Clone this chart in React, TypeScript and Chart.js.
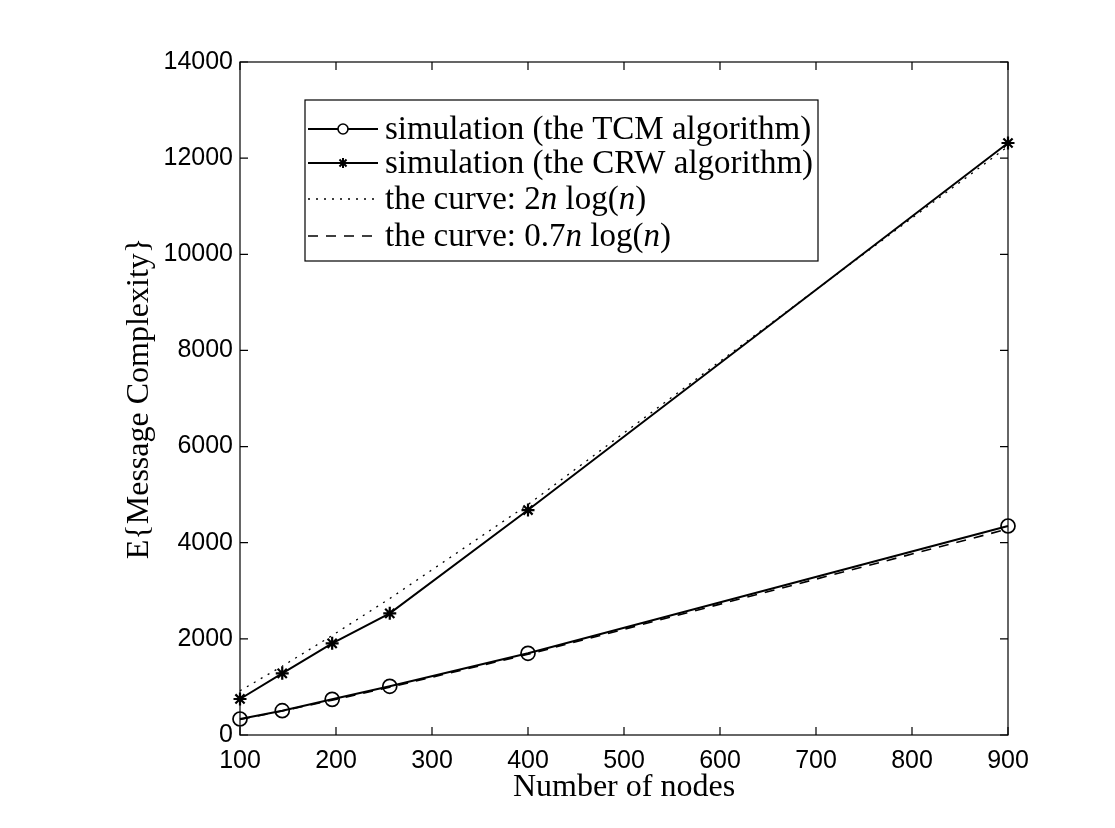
import React, { useEffect, useRef } from "react";
import { Chart, registerables } from "chart.js";

Chart.register(...registerables);

// Network sizes (n) at which the algorithms were simulated
const nodes = [100, 144, 196, 256, 400, 900];
// Simulated expected message complexity
const tcmSim = [333, 506, 742, 1013, 1700, 4348];
const crwSim = [749, 1283, 1907, 2531, 4680, 12315];
// Reference curves 2n·log(n) and 0.7n·log(n) evaluated at the same n
const curve2 = [921, 1431, 2069, 2839, 4793, 12244];
const curve07 = [322, 501, 724, 994, 1678, 4286];

const xTickValues = [100, 200, 300, 400, 500, 600, 700, 800, 900];
const xTickLabels = ["100", "200", "300", "400", "500", "600", "700", "800", "900"];
const yTickValues = [0, 2000, 4000, 6000, 8000, 10000, 12000, 14000];
const yTickLabels = ["0", "2000", "4000", "6000", "8000", "10000", "12000", "14000"];

const xTitle = "Number of nodes";
const yTitle = "E{Message Complexity}";

// Legend entries; "it" parts are set in italics (math variables)
type Part = { t: string; it?: boolean };
const legendEntries: Part[][] = [
  [{ t: "simulation (the TCM algorithm)" }],
  [{ t: "simulation (the CRW algorithm)" }],
  [{ t: "the curve: 2" }, { t: "n", it: true }, { t: " log(" }, { t: "n", it: true }, { t: ")" }],
  [{ t: "the curve: 0.7" }, { t: "n", it: true }, { t: " log(" }, { t: "n", it: true }, { t: ")" }],
];

const SERIF = "'Liberation Serif', 'Times New Roman', serif";
const SANS = "'Liberation Sans', Arial, Helvetica, sans-serif";

const toPoints = (ys: number[]) => nodes.map((n, i) => ({ x: n, y: ys[i] }));

// Full box around the plot with inward tick marks on all four sides
const framePlugin = {
  id: "frameTicks",
  beforeDatasetsDraw(chart: any) {
    const { ctx, chartArea: a, scales } = chart;
    const xs = scales.x;
    const ys = scales.y;
    const len = 8;
    ctx.save();
    ctx.strokeStyle = "#000";
    ctx.lineWidth = 1.2;
    ctx.strokeRect(a.left, a.top, a.right - a.left, a.bottom - a.top);
    ctx.beginPath();
    xs.ticks.forEach((tk: any) => {
      const px = xs.getPixelForValue(tk.value);
      ctx.moveTo(px, a.bottom);
      ctx.lineTo(px, a.bottom - len);
      ctx.moveTo(px, a.top);
      ctx.lineTo(px, a.top + len);
    });
    ys.ticks.forEach((tk: any) => {
      const py = ys.getPixelForValue(tk.value);
      ctx.moveTo(a.left, py);
      ctx.lineTo(a.left + len, py);
      ctx.moveTo(a.right, py);
      ctx.lineTo(a.right - len, py);
    });
    ctx.stroke();
    ctx.restore();
  },
};

function drawStar(ctx: CanvasRenderingContext2D, cx: number, cy: number, r: number) {
  ctx.beginPath();
  for (let k = 0; k < 4; k++) {
    const ang = (k * Math.PI) / 4;
    const dx = Math.cos(ang) * r;
    const dy = Math.sin(ang) * r;
    ctx.moveTo(cx - dx, cy - dy);
    ctx.lineTo(cx + dx, cy + dy);
  }
  ctx.stroke();
}

// Boxed legend in the upper-left part of the plot
const boxLegendPlugin = {
  id: "boxLegend",
  afterDraw(chart: any) {
    const { ctx, chartArea: a } = chart;
    const left = a.left + 65;
    const top = a.top + 38;
    const w = 513;
    const h = 161;
    const rowOffsets = [29, 63, 99, 136];
    const fontSize = 33;
    ctx.save();
    ctx.fillStyle = "#fff";
    ctx.fillRect(left, top, w, h);
    ctx.strokeStyle = "#000";
    ctx.lineWidth = 1.2;
    ctx.strokeRect(left, top, w, h);

    chart.data.datasets.forEach((ds: any, i: number) => {
      const yy = top + rowOffsets[i];
      ctx.strokeStyle = "#000";
      ctx.lineWidth = ds.borderWidth;
      ctx.setLineDash(ds.borderDash || []);
      ctx.beginPath();
      ctx.moveTo(left + 3, yy);
      ctx.lineTo(left + 73, yy);
      ctx.stroke();
      ctx.setLineDash([]);
      if (ds.pointStyle === "circle" && ds.pointRadius > 0) {
        ctx.lineWidth = 1.6;
        ctx.fillStyle = "#fff";
        ctx.beginPath();
        ctx.arc(left + 38, yy, 5, 0, Math.PI * 2);
        ctx.fill();
        ctx.stroke();
      } else if (ds.pointStyle === "star" && ds.pointRadius > 0) {
        ctx.lineWidth = 2;
        drawStar(ctx, left + 38, yy, 5);
      }
      // label text, possibly mixed upright / italic
      let tx = left + 80;
      ctx.fillStyle = "#000";
      ctx.textBaseline = "alphabetic";
      ctx.textAlign = "left";
      legendEntries[i].forEach((p) => {
        ctx.font = `${p.it ? "italic " : ""}${fontSize}px ${SERIF}`;
        ctx.fillText(p.t, tx, yy + 10);
        tx += ctx.measureText(p.t).width;
      });
    });
    ctx.restore();
  },
};

export default function App() {
  const canvasRef = useRef<HTMLCanvasElement | null>(null);

  useEffect(() => {
    document.body.style.margin = "0";
    const canvas = canvasRef.current;
    if (!canvas) return;

    const chart = new Chart(canvas, {
      type: "line",
      data: {
        datasets: [
          {
            label: "simulation (the TCM algorithm)",
            data: toPoints(tcmSim),
            borderColor: "#000",
            borderWidth: 2,
            pointStyle: "circle",
            pointRadius: 7,
            pointBorderWidth: 1.7,
            pointBorderColor: "#000",
            pointBackgroundColor: "rgba(255,255,255,0)",
            tension: 0,
            clip: false,
          },
          {
            label: "simulation (the CRW algorithm)",
            data: toPoints(crwSim),
            borderColor: "#000",
            borderWidth: 2,
            pointStyle: "star",
            pointRadius: 6.5,
            pointBorderWidth: 2.2,
            pointBorderColor: "#000",
            pointBackgroundColor: "#000",
            tension: 0,
            clip: false,
          },
          {
            label: "the curve: 2n log(n)",
            data: toPoints(curve2),
            borderColor: "#000",
            borderWidth: 1.3,
            borderDash: [2, 6],
            pointRadius: 0,
            tension: 0,
            clip: false,
          },
          {
            label: "the curve: 0.7n log(n)",
            data: toPoints(curve07),
            borderColor: "#000",
            borderWidth: 1.6,
            borderDash: [10, 8],
            pointRadius: 0,
            tension: 0,
            clip: false,
          },
        ],
      } as any,
      options: {
        animation: false,
        responsive: false,
        devicePixelRatio: 1,
        layout: { padding: { left: 0, right: 107, top: 62, bottom: 0 } },
        plugins: {
          legend: { display: false },
          tooltip: { enabled: false },
        },
        scales: {
          x: {
            type: "linear",
            min: 100,
            max: 900,
            afterBuildTicks: (s: any) => {
              s.ticks = xTickValues.map((v) => ({ value: v }));
            },
            afterFit: (s: any) => {
              s.height = 93;
            },
            ticks: {
              autoSkip: false,
              maxRotation: 0,
              padding: 11,
              color: "#000",
              font: { family: SANS, size: 25 },
              callback: (v: any) => xTickLabels[xTickValues.indexOf(Number(v))] ?? "",
            },
            grid: { display: false, drawTicks: false },
            border: { display: false },
            title: {
              display: true,
              text: xTitle,
              color: "#000",
              font: { family: SERIF, size: 32, lineHeight: 1 },
              padding: { top: 0, bottom: 24 },
            },
          },
          y: {
            type: "linear",
            min: 0,
            max: 14000,
            afterBuildTicks: (s: any) => {
              s.ticks = yTickValues.map((v) => ({ value: v }));
            },
            afterFit: (s: any) => {
              s.width = 240;
            },
            ticks: {
              autoSkip: false,
              padding: 7,
              color: "#000",
              font: { family: SANS, size: 25 },
              callback: (v: any) => yTickLabels[yTickValues.indexOf(Number(v))] ?? "",
            },
            grid: { display: false, drawTicks: false },
            border: { display: false },
            title: {
              display: true,
              text: yTitle,
              color: "#000",
              font: { family: SERIF, size: 32, lineHeight: 1 },
              padding: { top: 124, bottom: 0 },
            },
          },
        },
      } as any,
      plugins: [framePlugin, boxLegendPlugin],
    });

    return () => chart.destroy();
  }, []);

  return (
    <div style={{ width: 1115, height: 828, background: "#fff" }}>
      <canvas ref={canvasRef} width={1115} height={828} style={{ display: "block" }} />
    </div>
  );
}
